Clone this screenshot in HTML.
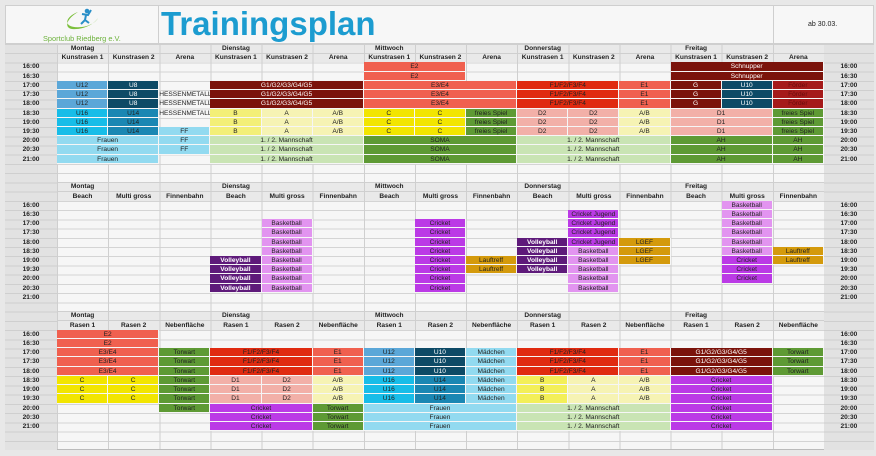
<!DOCTYPE html>
<html><head><meta charset="utf-8"><style>
*{margin:0;padding:0;box-sizing:border-box}
body{width:876px;height:456px;background:#e8e8e8;position:relative;overflow:hidden;font-family:"Liberation Sans",sans-serif}
.top{position:absolute;left:5px;top:5px;width:869px;height:39px;background:#f7f7f7;border:1px solid #cfcfcf}
.title{position:absolute;left:161px;top:7px;font-size:33px;line-height:33px;font-weight:bold;color:#1c9cd0}
.ab{position:absolute;left:808px;top:21px;font-size:7px;color:#222}
.logo{position:absolute;left:43px;top:34px;font-size:7.4px;line-height:9px;color:#6db23c;white-space:nowrap;z-index:5}
.g{position:absolute;left:5px;top:44px;width:869px;height:406px;display:grid;
grid-template-columns:52px repeat(15,51.13px) 50px;grid-template-rows:repeat(44,9.227px);
background-color:#f6f6f6;
background-image:repeating-linear-gradient(to right,#cfcfcf 0 1px,transparent 1px 51.13px),repeating-linear-gradient(to bottom,#d4d4d4 0 1px,transparent 1px 9.227px);
background-position:52px 0,0 0;border-bottom:1px solid #bbb}
.g>div{font-size:6.6px;line-height:9px;text-align:center;white-space:nowrap;overflow:hidden;color:#222}
.tc{background-color:#e2e2e2;background-image:repeating-linear-gradient(to bottom,#cfcfcf 0 1px,transparent 1px 9.227px)}
.hd{background-color:#e9e9e9;background-image:repeating-linear-gradient(to right,#cfcfcf 0 1px,transparent 1px 51.13px),linear-gradient(to bottom,#cfcfcf 0 1px,transparent 1px 9.2px,#cfcfcf 9.2px 10.2px,transparent 10.2px)}
.b{font-weight:bold}
.c{border-right:1px solid #f6f6f6;border-bottom:1px solid #f6f6f6}
.w{color:#fff!important}
.t{font-weight:bold}
</style></head><body>
<div class="top"></div>
<div style="position:absolute;left:158px;top:5px;width:1px;height:39px;background:#cfcfcf"></div>
<div style="position:absolute;left:773px;top:5px;width:1px;height:39px;background:#cfcfcf"></div>
<svg style="position:absolute;left:60px;top:7px" width="40" height="26"><path d="M18 5 C4 10 2 22 22 20 C30 19 36 15 38 11 C34 17 24 23 12 22 C4 21 6 12 18 5Z" fill="#7cbf3c"/><circle cx="27" cy="4" r="2.3" fill="#2a8fc8"/><path d="M22 7 L28 8 L31 3 M26 8 L25 13 L21 17 M25 13 L29 16" stroke="#2a8fc8" stroke-width="2" fill="none"/></svg>
<div class="logo">Sportclub Riedberg e.V.</div>
<div class="title">Trainingsplan</div>
<div class="ab">ab 30.03.</div>
<div class="g">
<div class="tc" style="grid-column:1;grid-row:1/45"></div>
<div class="tc" style="grid-column:17;grid-row:1/45"></div>
<div class="hd" style="grid-column:2/17;grid-row:1/3"></div>
<div class="hd" style="grid-column:2/17;grid-row:16/18"></div>
<div class="hd" style="grid-column:2/17;grid-row:30/32"></div>

<div class="b" style="grid-column:2;grid-row:1">Montag</div><div class="b" style="grid-column:5;grid-row:1">Dienstag</div><div class="b" style="grid-column:8;grid-row:1">Mittwoch</div><div class="b" style="grid-column:11;grid-row:1">Donnerstag</div><div class="b" style="grid-column:14;grid-row:1">Freitag</div>
<div class="b" style="grid-column:2;grid-row:2">Kunstrasen 1</div><div class="b" style="grid-column:3;grid-row:2">Kunstrasen 2</div><div class="b" style="grid-column:4;grid-row:2">Arena</div>
<div class="b" style="grid-column:5;grid-row:2">Kunstrasen 1</div><div class="b" style="grid-column:6;grid-row:2">Kunstrasen 2</div><div class="b" style="grid-column:7;grid-row:2">Arena</div>
<div class="b" style="grid-column:8;grid-row:2">Kunstrasen 1</div><div class="b" style="grid-column:9;grid-row:2">Kunstrasen 2</div><div class="b" style="grid-column:10;grid-row:2">Arena</div>
<div class="b" style="grid-column:11;grid-row:2">Kunstrasen 1</div><div class="b" style="grid-column:12;grid-row:2">Kunstrasen 2</div><div class="b" style="grid-column:13;grid-row:2">Arena</div>
<div class="b" style="grid-column:14;grid-row:2">Kunstrasen 1</div><div class="b" style="grid-column:15;grid-row:2">Kunstrasen 2</div><div class="b" style="grid-column:16;grid-row:2">Arena</div>
<div class="t" style="grid-column:1;grid-row:3">16:00</div><div class="t" style="grid-column:1;grid-row:4">16:30</div><div class="t" style="grid-column:1;grid-row:5">17:00</div><div class="t" style="grid-column:1;grid-row:6">17:30</div><div class="t" style="grid-column:1;grid-row:7">18:00</div><div class="t" style="grid-column:1;grid-row:8">18:30</div><div class="t" style="grid-column:1;grid-row:9">19:00</div><div class="t" style="grid-column:1;grid-row:10">19:30</div><div class="t" style="grid-column:1;grid-row:11">20:00</div><div class="t" style="grid-column:1;grid-row:12">20:30</div><div class="t" style="grid-column:1;grid-row:13">21:00</div>
<div class="t" style="grid-column:17;grid-row:3">16:00</div><div class="t" style="grid-column:17;grid-row:4">16:30</div><div class="t" style="grid-column:17;grid-row:5">17:00</div><div class="t" style="grid-column:17;grid-row:6">17:30</div><div class="t" style="grid-column:17;grid-row:7">18:00</div><div class="t" style="grid-column:17;grid-row:8">18:30</div><div class="t" style="grid-column:17;grid-row:9">19:00</div><div class="t" style="grid-column:17;grid-row:10">19:30</div><div class="t" style="grid-column:17;grid-row:11">20:00</div><div class="t" style="grid-column:17;grid-row:12">20:30</div><div class="t" style="grid-column:17;grid-row:13">21:00</div>
<div class="c" style="grid-column:2;grid-row:5;background:#5ba7d8">U12</div><div class="c" style="grid-column:2;grid-row:6;background:#5ba7d8">U12</div><div class="c" style="grid-column:2;grid-row:7;background:#5ba7d8">U12</div>
<div class="c w" style="grid-column:3;grid-row:5;background:#0d4a66">U8</div><div class="c w" style="grid-column:3;grid-row:6;background:#0d4a66">U8</div><div class="c w" style="grid-column:3;grid-row:7;background:#0d4a66">U8</div>
<div style="grid-column:4;grid-row:6">HESSENMETALL</div><div style="grid-column:4;grid-row:7">HESSENMETALL</div><div style="grid-column:4;grid-row:8">HESSENMETALL</div>
<div class="c" style="grid-column:2;grid-row:8;background:#17bde8">U16</div><div class="c" style="grid-column:2;grid-row:9;background:#17bde8">U16</div><div class="c" style="grid-column:2;grid-row:10;background:#17bde8">U16</div>
<div class="c" style="grid-column:3;grid-row:8;background:#1a87b3">U14</div><div class="c" style="grid-column:3;grid-row:9;background:#1a87b3">U14</div><div class="c" style="grid-column:3;grid-row:10;background:#1a87b3">U14</div>
<div class="c" style="grid-column:4;grid-row:10;background:#92daf0">FF</div><div class="c" style="grid-column:4;grid-row:11;background:#92daf0">FF</div><div class="c" style="grid-column:4;grid-row:12;background:#92daf0">FF</div>
<div class="c" style="grid-column:2/4;grid-row:11;background:#92daf0">Frauen</div><div class="c" style="grid-column:2/4;grid-row:12;background:#92daf0">Frauen</div><div class="c" style="grid-column:2/4;grid-row:13;background:#92daf0">Frauen</div>
<div class="c w" style="grid-column:5/8;grid-row:5;background:#7b130b">G1/G2/G3/G4/G5</div><div class="c w" style="grid-column:5/8;grid-row:6;background:#7b130b">G1/G2/G3/G4/G5</div><div class="c w" style="grid-column:5/8;grid-row:7;background:#7b130b">G1/G2/G3/G4/G5</div>
<div class="c" style="grid-column:5;grid-row:8;background:#f3ef78">B</div><div class="c" style="grid-column:5;grid-row:9;background:#f3ef78">B</div><div class="c" style="grid-column:5;grid-row:10;background:#f3ef78">B</div>
<div class="c" style="grid-column:6;grid-row:8;background:#f6f3b4">A</div><div class="c" style="grid-column:6;grid-row:9;background:#f6f3b4">A</div><div class="c" style="grid-column:6;grid-row:10;background:#f6f3b4">A</div>
<div class="c" style="grid-column:7;grid-row:8;background:#f6f3b4">A/B</div><div class="c" style="grid-column:7;grid-row:9;background:#f6f3b4">A/B</div><div class="c" style="grid-column:7;grid-row:10;background:#f6f3b4">A/B</div>
<div class="c" style="grid-column:5/8;grid-row:11;background:#c9e4b4">1. / 2. Mannschaft</div><div class="c" style="grid-column:5/8;grid-row:12;background:#c9e4b4">1. / 2. Mannschaft</div><div class="c" style="grid-column:5/8;grid-row:13;background:#c9e4b4">1. / 2. Mannschaft</div>
<div class="c" style="grid-column:8/10;grid-row:3;background:#f0604f">E2</div><div class="c" style="grid-column:8/10;grid-row:4;background:#f0604f">E2</div>
<div class="c" style="grid-column:8/11;grid-row:5;background:#f0604f">E3/E4</div><div class="c" style="grid-column:8/11;grid-row:6;background:#f0604f">E3/E4</div><div class="c" style="grid-column:8/11;grid-row:7;background:#f0604f">E3/E4</div>
<div class="c" style="grid-column:8;grid-row:8;background:#f2e500">C</div><div class="c" style="grid-column:8;grid-row:9;background:#f2e500">C</div><div class="c" style="grid-column:8;grid-row:10;background:#f2e500">C</div>
<div class="c" style="grid-column:9;grid-row:8;background:#f2e500">C</div><div class="c" style="grid-column:9;grid-row:9;background:#f2e500">C</div><div class="c" style="grid-column:9;grid-row:10;background:#f2e500">C</div>
<div class="c" style="grid-column:10;grid-row:8;background:#5e9a34">freies Spiel</div><div class="c" style="grid-column:10;grid-row:9;background:#5e9a34">freies Spiel</div><div class="c" style="grid-column:10;grid-row:10;background:#5e9a34">freies Spiel</div>
<div class="c" style="grid-column:8/11;grid-row:11;background:#5e9a34">SOMA</div><div class="c" style="grid-column:8/11;grid-row:12;background:#5e9a34">SOMA</div><div class="c" style="grid-column:8/11;grid-row:13;background:#5e9a34">SOMA</div>
<div class="c" style="grid-column:11/13;grid-row:5;background:#e02a10">F1/F2/F3/F4</div><div class="c" style="grid-column:11/13;grid-row:6;background:#e02a10">F1/F2/F3/F4</div><div class="c" style="grid-column:11/13;grid-row:7;background:#e02a10">F1/F2/F3/F4</div>
<div class="c" style="grid-column:13;grid-row:5;background:#f0604f">E1</div><div class="c" style="grid-column:13;grid-row:6;background:#f0604f">E1</div><div class="c" style="grid-column:13;grid-row:7;background:#f0604f">E1</div>
<div class="c" style="grid-column:11;grid-row:8;background:#f2b0a8">D2</div><div class="c" style="grid-column:11;grid-row:9;background:#f2b0a8">D2</div><div class="c" style="grid-column:11;grid-row:10;background:#f2b0a8">D2</div>
<div class="c" style="grid-column:12;grid-row:8;background:#f2b0a8">D2</div><div class="c" style="grid-column:12;grid-row:9;background:#f2b0a8">D2</div><div class="c" style="grid-column:12;grid-row:10;background:#f2b0a8">D2</div>
<div class="c" style="grid-column:13;grid-row:8;background:#f6f3b4">A/B</div><div class="c" style="grid-column:13;grid-row:9;background:#f6f3b4">A/B</div><div class="c" style="grid-column:13;grid-row:10;background:#f6f3b4">A/B</div>
<div class="c" style="grid-column:11/14;grid-row:11;background:#c9e4b4">1. / 2. Mannschaft</div><div class="c" style="grid-column:11/14;grid-row:12;background:#c9e4b4">1. / 2. Mannschaft</div><div class="c" style="grid-column:11/14;grid-row:13;background:#c9e4b4">1. / 2. Mannschaft</div>
<div class="c w" style="grid-column:14/17;grid-row:3;background:#7b130b">Schnupper</div><div class="c w" style="grid-column:14/17;grid-row:4;background:#7b130b">Schnupper</div>
<div class="c w" style="grid-column:14;grid-row:5;background:#7b130b">G</div><div class="c w" style="grid-column:14;grid-row:6;background:#7b130b">G</div><div class="c w" style="grid-column:14;grid-row:7;background:#7b130b">G</div>
<div class="c w" style="grid-column:15;grid-row:5;background:#0d4a66">U10</div><div class="c w" style="grid-column:15;grid-row:6;background:#0d4a66">U10</div><div class="c w" style="grid-column:15;grid-row:7;background:#0d4a66">U10</div>
<div class="c" style="grid-column:16;grid-row:5;background:#a51a1a;color:#6a0c0c">Förder</div><div class="c" style="grid-column:16;grid-row:6;background:#a51a1a;color:#6a0c0c">Förder</div><div class="c" style="grid-column:16;grid-row:7;background:#a51a1a;color:#6a0c0c">Förder</div>
<div class="c" style="grid-column:14/16;grid-row:8;background:#f2b0a8">D1</div><div class="c" style="grid-column:14/16;grid-row:9;background:#f2b0a8">D1</div><div class="c" style="grid-column:14/16;grid-row:10;background:#f2b0a8">D1</div>
<div class="c" style="grid-column:16;grid-row:8;background:#5e9a34">freies Spiel</div><div class="c" style="grid-column:16;grid-row:9;background:#5e9a34">freies Spiel</div><div class="c" style="grid-column:16;grid-row:10;background:#5e9a34">freies Spiel</div>
<div class="c" style="grid-column:14/16;grid-row:11;background:#5e9a34">AH</div><div class="c" style="grid-column:14/16;grid-row:12;background:#5e9a34">AH</div><div class="c" style="grid-column:14/16;grid-row:13;background:#5e9a34">AH</div>
<div class="c" style="grid-column:16;grid-row:11;background:#5e9a34">AH</div><div class="c" style="grid-column:16;grid-row:12;background:#5e9a34">AH</div><div class="c" style="grid-column:16;grid-row:13;background:#5e9a34">AH</div>

<div class="b" style="grid-column:2;grid-row:16">Montag</div><div class="b" style="grid-column:5;grid-row:16">Dienstag</div><div class="b" style="grid-column:8;grid-row:16">Mittwoch</div><div class="b" style="grid-column:11;grid-row:16">Donnerstag</div><div class="b" style="grid-column:14;grid-row:16">Freitag</div>
<div class="b" style="grid-column:2;grid-row:17">Beach</div><div class="b" style="grid-column:3;grid-row:17">Multi gross</div><div class="b" style="grid-column:4;grid-row:17">Finnenbahn</div>
<div class="b" style="grid-column:5;grid-row:17">Beach</div><div class="b" style="grid-column:6;grid-row:17">Multi gross</div><div class="b" style="grid-column:7;grid-row:17">Finnenbahn</div>
<div class="b" style="grid-column:8;grid-row:17">Beach</div><div class="b" style="grid-column:9;grid-row:17">Multi gross</div><div class="b" style="grid-column:10;grid-row:17">Finnenbahn</div>
<div class="b" style="grid-column:11;grid-row:17">Beach</div><div class="b" style="grid-column:12;grid-row:17">Multi gross</div><div class="b" style="grid-column:13;grid-row:17">Finnenbahn</div>
<div class="b" style="grid-column:14;grid-row:17">Beach</div><div class="b" style="grid-column:15;grid-row:17">Multi gross</div><div class="b" style="grid-column:16;grid-row:17">Finnenbahn</div>
<div class="t" style="grid-column:1;grid-row:18">16:00</div><div class="t" style="grid-column:1;grid-row:19">16:30</div><div class="t" style="grid-column:1;grid-row:20">17:00</div><div class="t" style="grid-column:1;grid-row:21">17:30</div><div class="t" style="grid-column:1;grid-row:22">18:00</div><div class="t" style="grid-column:1;grid-row:23">18:30</div><div class="t" style="grid-column:1;grid-row:24">19:00</div><div class="t" style="grid-column:1;grid-row:25">19:30</div><div class="t" style="grid-column:1;grid-row:26">20:00</div><div class="t" style="grid-column:1;grid-row:27">20:30</div><div class="t" style="grid-column:1;grid-row:28">21:00</div>
<div class="t" style="grid-column:17;grid-row:18">16:00</div><div class="t" style="grid-column:17;grid-row:19">16:30</div><div class="t" style="grid-column:17;grid-row:20">17:00</div><div class="t" style="grid-column:17;grid-row:21">17:30</div><div class="t" style="grid-column:17;grid-row:22">18:00</div><div class="t" style="grid-column:17;grid-row:23">18:30</div><div class="t" style="grid-column:17;grid-row:24">19:00</div><div class="t" style="grid-column:17;grid-row:25">19:30</div><div class="t" style="grid-column:17;grid-row:26">20:00</div><div class="t" style="grid-column:17;grid-row:27">20:30</div><div class="t" style="grid-column:17;grid-row:28">21:00</div>
<div class="c" style="grid-column:6;grid-row:20;background:#e294f0">Basketball</div><div class="c" style="grid-column:6;grid-row:21;background:#e294f0">Basketball</div><div class="c" style="grid-column:6;grid-row:22;background:#e294f0">Basketball</div><div class="c" style="grid-column:6;grid-row:23;background:#e294f0">Basketball</div><div class="c" style="grid-column:6;grid-row:24;background:#e294f0">Basketball</div><div class="c" style="grid-column:6;grid-row:25;background:#e294f0">Basketball</div><div class="c" style="grid-column:6;grid-row:26;background:#e294f0">Basketball</div><div class="c" style="grid-column:6;grid-row:27;background:#e294f0">Basketball</div>
<div class="c w b" style="grid-column:5;grid-row:24;background:#5e1a7a">Volleyball</div><div class="c w b" style="grid-column:5;grid-row:25;background:#5e1a7a">Volleyball</div><div class="c w b" style="grid-column:5;grid-row:26;background:#5e1a7a">Volleyball</div><div class="c w b" style="grid-column:5;grid-row:27;background:#5e1a7a">Volleyball</div>
<div class="c" style="grid-column:9;grid-row:20;background:#bb3ae6">Cricket</div><div class="c" style="grid-column:9;grid-row:21;background:#bb3ae6">Cricket</div><div class="c" style="grid-column:9;grid-row:22;background:#bb3ae6">Cricket</div><div class="c" style="grid-column:9;grid-row:23;background:#bb3ae6">Cricket</div><div class="c" style="grid-column:9;grid-row:24;background:#bb3ae6">Cricket</div><div class="c" style="grid-column:9;grid-row:25;background:#bb3ae6">Cricket</div><div class="c" style="grid-column:9;grid-row:26;background:#bb3ae6">Cricket</div><div class="c" style="grid-column:9;grid-row:27;background:#bb3ae6">Cricket</div>
<div class="c" style="grid-column:10;grid-row:24;background:#d49a0c">Lauftreff</div><div class="c" style="grid-column:10;grid-row:25;background:#d49a0c">Lauftreff</div>
<div class="c" style="grid-column:12;grid-row:19;background:#bb3ae6">Cricket Jugend</div><div class="c" style="grid-column:12;grid-row:20;background:#bb3ae6">Cricket Jugend</div><div class="c" style="grid-column:12;grid-row:21;background:#bb3ae6">Cricket Jugend</div><div class="c" style="grid-column:12;grid-row:22;background:#bb3ae6">Cricket Jugend</div>
<div class="c" style="grid-column:12;grid-row:23;background:#e294f0">Basketball</div><div class="c" style="grid-column:12;grid-row:24;background:#e294f0">Basketball</div><div class="c" style="grid-column:12;grid-row:25;background:#e294f0">Basketball</div><div class="c" style="grid-column:12;grid-row:26;background:#e294f0">Basketball</div><div class="c" style="grid-column:12;grid-row:27;background:#e294f0">Basketball</div>
<div class="c w b" style="grid-column:11;grid-row:22;background:#5e1a7a">Volleyball</div><div class="c w b" style="grid-column:11;grid-row:23;background:#5e1a7a">Volleyball</div><div class="c w b" style="grid-column:11;grid-row:24;background:#5e1a7a">Volleyball</div><div class="c w b" style="grid-column:11;grid-row:25;background:#5e1a7a">Volleyball</div>
<div class="c" style="grid-column:13;grid-row:22;background:#d49a0c">LGEF</div><div class="c" style="grid-column:13;grid-row:23;background:#d49a0c">LGEF</div><div class="c" style="grid-column:13;grid-row:24;background:#d49a0c">LGEF</div>
<div class="c" style="grid-column:15;grid-row:18;background:#e294f0">Basketball</div><div class="c" style="grid-column:15;grid-row:19;background:#e294f0">Basketball</div><div class="c" style="grid-column:15;grid-row:20;background:#e294f0">Basketball</div><div class="c" style="grid-column:15;grid-row:21;background:#e294f0">Basketball</div><div class="c" style="grid-column:15;grid-row:22;background:#e294f0">Basketball</div><div class="c" style="grid-column:15;grid-row:23;background:#e294f0">Basketball</div>
<div class="c" style="grid-column:15;grid-row:24;background:#bb3ae6">Cricket</div><div class="c" style="grid-column:15;grid-row:25;background:#bb3ae6">Cricket</div><div class="c" style="grid-column:15;grid-row:26;background:#bb3ae6">Cricket</div>
<div class="c" style="grid-column:16;grid-row:23;background:#d49a0c">Lauftreff</div><div class="c" style="grid-column:16;grid-row:24;background:#d49a0c">Lauftreff</div>

<div class="b" style="grid-column:2;grid-row:30">Montag</div><div class="b" style="grid-column:5;grid-row:30">Dienstag</div><div class="b" style="grid-column:8;grid-row:30">Mittwoch</div><div class="b" style="grid-column:11;grid-row:30">Donnerstag</div><div class="b" style="grid-column:14;grid-row:30">Freitag</div>
<div class="b" style="grid-column:2;grid-row:31">Rasen 1</div><div class="b" style="grid-column:3;grid-row:31">Rasen 2</div><div class="b" style="grid-column:4;grid-row:31">Nebenfläche</div>
<div class="b" style="grid-column:5;grid-row:31">Rasen 1</div><div class="b" style="grid-column:6;grid-row:31">Rasen 2</div><div class="b" style="grid-column:7;grid-row:31">Nebenfläche</div>
<div class="b" style="grid-column:8;grid-row:31">Rasen 1</div><div class="b" style="grid-column:9;grid-row:31">Rasen 2</div><div class="b" style="grid-column:10;grid-row:31">Nebenfläche</div>
<div class="b" style="grid-column:11;grid-row:31">Rasen 1</div><div class="b" style="grid-column:12;grid-row:31">Rasen 2</div><div class="b" style="grid-column:13;grid-row:31">Nebenfläche</div>
<div class="b" style="grid-column:14;grid-row:31">Rasen 1</div><div class="b" style="grid-column:15;grid-row:31">Rasen 2</div><div class="b" style="grid-column:16;grid-row:31">Nebenfläche</div>
<div class="t" style="grid-column:1;grid-row:32">16:00</div><div class="t" style="grid-column:1;grid-row:33">16:30</div><div class="t" style="grid-column:1;grid-row:34">17:00</div><div class="t" style="grid-column:1;grid-row:35">17:30</div><div class="t" style="grid-column:1;grid-row:36">18:00</div><div class="t" style="grid-column:1;grid-row:37">18:30</div><div class="t" style="grid-column:1;grid-row:38">19:00</div><div class="t" style="grid-column:1;grid-row:39">19:30</div><div class="t" style="grid-column:1;grid-row:40">20:00</div><div class="t" style="grid-column:1;grid-row:41">20:30</div><div class="t" style="grid-column:1;grid-row:42">21:00</div>
<div class="t" style="grid-column:17;grid-row:32">16:00</div><div class="t" style="grid-column:17;grid-row:33">16:30</div><div class="t" style="grid-column:17;grid-row:34">17:00</div><div class="t" style="grid-column:17;grid-row:35">17:30</div><div class="t" style="grid-column:17;grid-row:36">18:00</div><div class="t" style="grid-column:17;grid-row:37">18:30</div><div class="t" style="grid-column:17;grid-row:38">19:00</div><div class="t" style="grid-column:17;grid-row:39">19:30</div><div class="t" style="grid-column:17;grid-row:40">20:00</div><div class="t" style="grid-column:17;grid-row:41">20:30</div><div class="t" style="grid-column:17;grid-row:42">21:00</div>
<div class="c" style="grid-column:2/4;grid-row:32;background:#f0604f">E2</div><div class="c" style="grid-column:2/4;grid-row:33;background:#f0604f">E2</div>
<div class="c" style="grid-column:2/4;grid-row:34;background:#f0604f">E3/E4</div><div class="c" style="grid-column:2/4;grid-row:35;background:#f0604f">E3/E4</div><div class="c" style="grid-column:2/4;grid-row:36;background:#f0604f">E3/E4</div>
<div class="c" style="grid-column:2;grid-row:37;background:#f2e500">C</div><div class="c" style="grid-column:2;grid-row:38;background:#f2e500">C</div><div class="c" style="grid-column:2;grid-row:39;background:#f2e500">C</div>
<div class="c" style="grid-column:3;grid-row:37;background:#f2e500">C</div><div class="c" style="grid-column:3;grid-row:38;background:#f2e500">C</div><div class="c" style="grid-column:3;grid-row:39;background:#f2e500">C</div>
<div class="c" style="grid-column:4;grid-row:34;background:#5e9a34">Torwart</div><div class="c" style="grid-column:4;grid-row:35;background:#5e9a34">Torwart</div><div class="c" style="grid-column:4;grid-row:36;background:#5e9a34">Torwart</div><div class="c" style="grid-column:4;grid-row:37;background:#5e9a34">Torwart</div><div class="c" style="grid-column:4;grid-row:38;background:#5e9a34">Torwart</div><div class="c" style="grid-column:4;grid-row:39;background:#5e9a34">Torwart</div><div class="c" style="grid-column:4;grid-row:40;background:#5e9a34">Torwart</div>
<div class="c" style="grid-column:5/7;grid-row:34;background:#e02a10">F1/F2/F3/F4</div><div class="c" style="grid-column:5/7;grid-row:35;background:#e02a10">F1/F2/F3/F4</div><div class="c" style="grid-column:5/7;grid-row:36;background:#e02a10">F1/F2/F3/F4</div>
<div class="c" style="grid-column:7;grid-row:34;background:#f0604f">E1</div><div class="c" style="grid-column:7;grid-row:35;background:#f0604f">E1</div><div class="c" style="grid-column:7;grid-row:36;background:#f0604f">E1</div>
<div class="c" style="grid-column:5;grid-row:37;background:#f2b0a8">D1</div><div class="c" style="grid-column:5;grid-row:38;background:#f2b0a8">D1</div><div class="c" style="grid-column:5;grid-row:39;background:#f2b0a8">D1</div>
<div class="c" style="grid-column:6;grid-row:37;background:#f2b0a8">D2</div><div class="c" style="grid-column:6;grid-row:38;background:#f2b0a8">D2</div><div class="c" style="grid-column:6;grid-row:39;background:#f2b0a8">D2</div>
<div class="c" style="grid-column:7;grid-row:37;background:#f6f3b4">A/B</div><div class="c" style="grid-column:7;grid-row:38;background:#f6f3b4">A/B</div><div class="c" style="grid-column:7;grid-row:39;background:#f6f3b4">A/B</div>
<div class="c" style="grid-column:5/7;grid-row:40;background:#bb3ae6">Cricket</div><div class="c" style="grid-column:5/7;grid-row:41;background:#bb3ae6">Cricket</div><div class="c" style="grid-column:5/7;grid-row:42;background:#bb3ae6">Cricket</div>
<div class="c" style="grid-column:7;grid-row:40;background:#5e9a34">Torwart</div><div class="c" style="grid-column:7;grid-row:41;background:#5e9a34">Torwart</div><div class="c" style="grid-column:7;grid-row:42;background:#5e9a34">Torwart</div>
<div class="c" style="grid-column:8;grid-row:34;background:#5ba7d8">U12</div><div class="c" style="grid-column:8;grid-row:35;background:#5ba7d8">U12</div><div class="c" style="grid-column:8;grid-row:36;background:#5ba7d8">U12</div>
<div class="c w" style="grid-column:9;grid-row:34;background:#0d4a66">U10</div><div class="c w" style="grid-column:9;grid-row:35;background:#0d4a66">U10</div><div class="c w" style="grid-column:9;grid-row:36;background:#0d4a66">U10</div>
<div class="c" style="grid-column:8;grid-row:37;background:#17bde8">U16</div><div class="c" style="grid-column:8;grid-row:38;background:#17bde8">U16</div><div class="c" style="grid-column:8;grid-row:39;background:#17bde8">U16</div>
<div class="c" style="grid-column:9;grid-row:37;background:#1a87b3">U14</div><div class="c" style="grid-column:9;grid-row:38;background:#1a87b3">U14</div><div class="c" style="grid-column:9;grid-row:39;background:#1a87b3">U14</div>
<div class="c" style="grid-column:10;grid-row:34;background:#92daf0">Mädchen</div><div class="c" style="grid-column:10;grid-row:35;background:#92daf0">Mädchen</div><div class="c" style="grid-column:10;grid-row:36;background:#92daf0">Mädchen</div><div class="c" style="grid-column:10;grid-row:37;background:#92daf0">Mädchen</div><div class="c" style="grid-column:10;grid-row:38;background:#92daf0">Mädchen</div><div class="c" style="grid-column:10;grid-row:39;background:#92daf0">Mädchen</div>
<div class="c" style="grid-column:8/11;grid-row:40;background:#92daf0">Frauen</div><div class="c" style="grid-column:8/11;grid-row:41;background:#92daf0">Frauen</div><div class="c" style="grid-column:8/11;grid-row:42;background:#92daf0">Frauen</div>
<div class="c" style="grid-column:11/13;grid-row:34;background:#e02a10">F1/F2/F3/F4</div><div class="c" style="grid-column:11/13;grid-row:35;background:#e02a10">F1/F2/F3/F4</div><div class="c" style="grid-column:11/13;grid-row:36;background:#e02a10">F1/F2/F3/F4</div>
<div class="c" style="grid-column:13;grid-row:34;background:#f0604f">E1</div><div class="c" style="grid-column:13;grid-row:35;background:#f0604f">E1</div><div class="c" style="grid-column:13;grid-row:36;background:#f0604f">E1</div>
<div class="c" style="grid-column:11;grid-row:37;background:#f3ef58">B</div><div class="c" style="grid-column:11;grid-row:38;background:#f3ef58">B</div><div class="c" style="grid-column:11;grid-row:39;background:#f3ef58">B</div>
<div class="c" style="grid-column:12;grid-row:37;background:#f6f3b4">A</div><div class="c" style="grid-column:12;grid-row:38;background:#f6f3b4">A</div><div class="c" style="grid-column:12;grid-row:39;background:#f6f3b4">A</div>
<div class="c" style="grid-column:13;grid-row:37;background:#f6f3b4">A/B</div><div class="c" style="grid-column:13;grid-row:38;background:#f6f3b4">A/B</div><div class="c" style="grid-column:13;grid-row:39;background:#f6f3b4">A/B</div>
<div class="c" style="grid-column:11/14;grid-row:40;background:#c9e4b4">1. / 2. Mannschaft</div><div class="c" style="grid-column:11/14;grid-row:41;background:#c9e4b4">1. / 2. Mannschaft</div><div class="c" style="grid-column:11/14;grid-row:42;background:#c9e4b4">1. / 2. Mannschaft</div>
<div class="c w" style="grid-column:14/16;grid-row:34;background:#7b130b">G1/G2/G3/G4/G5</div><div class="c w" style="grid-column:14/16;grid-row:35;background:#7b130b">G1/G2/G3/G4/G5</div><div class="c w" style="grid-column:14/16;grid-row:36;background:#7b130b">G1/G2/G3/G4/G5</div>
<div class="c" style="grid-column:16;grid-row:34;background:#5e9a34">Torwart</div><div class="c" style="grid-column:16;grid-row:35;background:#5e9a34">Torwart</div><div class="c" style="grid-column:16;grid-row:36;background:#5e9a34">Torwart</div>
<div class="c" style="grid-column:14/16;grid-row:37;background:#bb3ae6">Cricket</div><div class="c" style="grid-column:14/16;grid-row:38;background:#bb3ae6">Cricket</div><div class="c" style="grid-column:14/16;grid-row:39;background:#bb3ae6">Cricket</div><div class="c" style="grid-column:14/16;grid-row:40;background:#bb3ae6">Cricket</div><div class="c" style="grid-column:14/16;grid-row:41;background:#bb3ae6">Cricket</div><div class="c" style="grid-column:14/16;grid-row:42;background:#bb3ae6">Cricket</div>
</div>
</body></html>
